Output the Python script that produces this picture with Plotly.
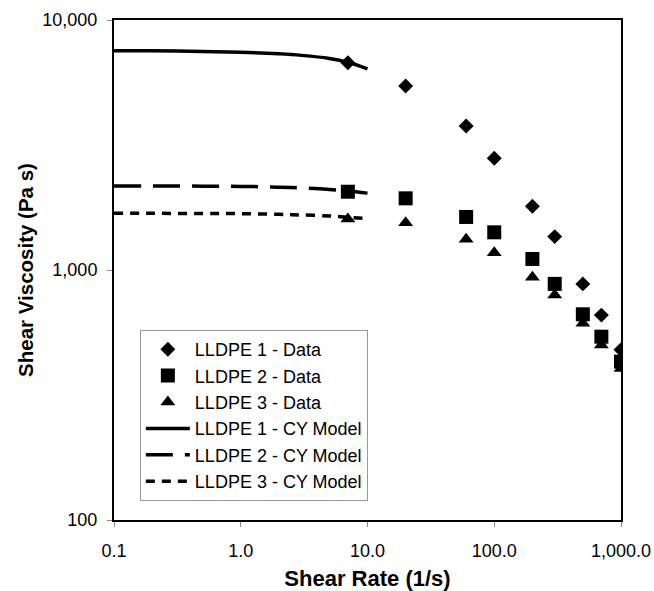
import plotly.graph_objects as go

# ---- data ----
shear_rate = [7, 20, 60, 100, 200, 300, 500, 700, 1000]
lldpe1_data = [6740, 5440, 3770, 2800, 1800, 1360, 880, 660, 480]
lldpe2_data = [2056, 1935, 1630, 1415, 1107, 880, 665, 541, 430]
lldpe3_data = [1600, 1546, 1327, 1173, 935, 794, 612, 501, 404]

model_rate = [0.1, 0.2, 0.5, 1, 2, 3, 5, 7, 10]
lldpe1_model = [7530, 7525, 7490, 7430, 7320, 7220, 7020, 6780, 6380]
lldpe2_model = [2170, 2168, 2165, 2160, 2145, 2130, 2100, 2070, 2030]
lldpe3_model = [1686, 1685, 1683, 1680, 1670, 1660, 1645, 1625, 1605]

x_tickvals = [0.1, 1, 10, 100, 1000]
x_ticktext = ["0.1", "1.0", "10.0", "100.0", "1,000.0"]
y_tickvals = [100, 1000, 10000]
y_ticktext = ["100", "1,000", "10,000"]

FONT = "Arial, Liberation Sans, sans-serif"

fig = go.Figure()
fig.add_trace(go.Scatter(x=shear_rate, y=lldpe1_data, mode="markers", name="LLDPE 1 - Data",
                         marker=dict(symbol="diamond", size=11.5, color="black")))
fig.add_trace(go.Scatter(x=shear_rate, y=lldpe2_data, mode="markers", name="LLDPE 2 - Data",
                         marker=dict(symbol="square", size=14, color="black")))
fig.add_trace(go.Scatter(x=shear_rate, y=lldpe3_data, mode="markers", name="LLDPE 3 - Data",
                         marker=dict(symbol="triangle-up", size=13, color="black")))
fig.add_trace(go.Scatter(x=model_rate, y=lldpe1_model, mode="lines", name="LLDPE 1 - CY Model",
                         line=dict(color="black", width=3.5, shape="spline")))
fig.add_trace(go.Scatter(x=model_rate, y=lldpe2_model, mode="lines", name="LLDPE 2 - CY Model",
                         line=dict(color="black", width=3.5, dash="27px,12px", shape="spline")))
fig.add_trace(go.Scatter(x=model_rate, y=lldpe3_model, mode="lines", name="LLDPE 3 - CY Model",
                         line=dict(color="black", width=3.5, dash="9px,7px", shape="spline")))

fig.update_layout(
    width=654, height=591,
    margin=dict(l=114, r=33, t=20, b=71),
    paper_bgcolor="white", plot_bgcolor="white",
    font=dict(family=FONT, size=18, color="black"),
    showlegend=True,
    legend=dict(x=0.051, y=0.38, xanchor="left", yanchor="top",
                bgcolor="white", bordercolor="#999999", borderwidth=1,
                font=dict(family=FONT, size=18, color="black"),
                itemwidth=44, tracegroupgap=0),
)
fig.update_xaxes(
    type="log", range=[-1, 3], automargin=False,
    tickvals=x_tickvals, ticktext=x_ticktext,
    showgrid=False, zeroline=False,
    showline=True, linecolor="black", linewidth=2, mirror=True,
    ticks="outside", ticklen=5, tickcolor="#888888", tickwidth=1,
    ticklabelstandoff=8,
    title=dict(text="<b>Shear Rate (1/s)</b>", font=dict(family=FONT, size=22), standoff=14),
)
fig.update_yaxes(
    type="log", range=[2, 4], automargin=False,
    tickvals=y_tickvals, ticktext=y_ticktext,
    showgrid=False, zeroline=False,
    showline=True, linecolor="black", linewidth=2, mirror=True,
    ticks="outside", ticklen=5, tickcolor="#888888", tickwidth=1,
    ticklabelstandoff=6,
    title=dict(text="<b>Shear Viscosity (Pa s)</b>", font=dict(family=FONT, size=20.5), standoff=3),
)

fig.write_html(
    "out.html",
    config={"displayModeBar": False},
    post_script="document.body.style.margin='0';document.body.style.overflow='hidden';",
)
